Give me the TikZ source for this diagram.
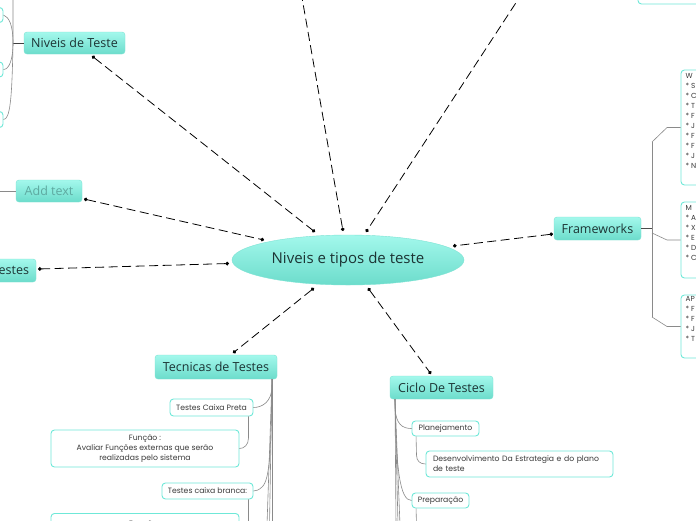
\documentclass[tikz,border=0pt]{standalone}
\usepackage{fontspec}
\setmainfont{Open Sans}
\newfontfamily\subfont{Poppins}
\usetikzlibrary{arrows.meta,calc,shapes.geometric}
\definecolor{tealtop}{HTML}{A3F8EC}
\definecolor{tealbot}{HTML}{6CDCCB}
\definecolor{tealedge}{HTML}{7DE3D4}
\definecolor{topictext}{HTML}{1C3434}
\definecolor{subedge}{HTML}{6FE8D8}
\definecolor{subtext}{HTML}{3A3A3A}
\definecolor{addtext}{HTML}{5EA9A0}
\definecolor{branchgray}{HTML}{8A8A8A}
\begin{document}
\begin{tikzpicture}[x=1pt,y=-1pt,
  topic/.style={rectangle, rounded corners=3pt, top color=tealtop, bottom color=tealbot,
    draw=tealedge, line width=0.4pt, text=topictext, inner sep=0pt,
    font=\fontsize{12.5}{14}\selectfont},
  sub/.style={rectangle, rounded corners=3.5pt, draw=subedge, line width=0.9pt, fill=white,
    text=subtext, inner sep=0pt, font=\subfont\fontsize{7.7}{10}\selectfont},
  conn/.style={draw=black, line width=0.8pt, dash pattern=on 9pt off 4.5pt,
    {Circle[length=3.6pt]}-{Circle[length=3.6pt]}},
  branch/.style={draw=branchgray, line width=0.6pt},
  fwtext/.style={anchor=north west, inner sep=0pt, text=subtext, align=left,
    font=\subfont\fontsize{7.3}{10}\selectfont}
]
\clip (0,0) rectangle (696,520);
\fill[white] (0,0) rectangle (696,520);

% central topic
\node[ellipse, top color=tealtop, bottom color=tealbot, draw=tealedge, line width=0.4pt,
  minimum width=232pt, minimum height=50pt, inner sep=0pt, text=topictext,
  font=\fontsize{15}{18}\selectfont] (center) at (348,260) {Niveis e tipos de teste};

% main topics
\node[topic, minimum width=101pt, minimum height=22pt] (niveis) at (74.5,43) {Niveis de Teste};
\node[topic, minimum width=66pt, minimum height=22pt, text=addtext] (addt) at (49,191) {Add text};
\node[topic, minimum width=50pt, minimum height=23pt, text width=36pt, align=right, inner xsep=7pt] (estes) at (11,270.5) {estes};
\node[topic, minimum width=87pt, minimum height=23pt] (frame) at (597.5,228.5) {Frameworks};
\node[topic, minimum width=122pt, minimum height=24pt] (tecn) at (216,367) {Tecnicas de Testes};
\node[topic, minimum width=103pt, minimum height=23pt] (ciclo) at (441.5,387.5) {Ciclo De Testes};

% sub topics (left edge, cut off)
\node[sub, minimum width=30pt, minimum height=15pt] (lb1) at (-12,15) {};
\node[sub, minimum width=30pt, minimum height=15pt] (lb2) at (-12,69.5) {};
\node[sub, minimum width=30pt, minimum height=16pt] (lb3) at (-12,119.5) {};
% top right
\node[sub, minimum width=72pt, minimum height=30pt] (trbox) at (674,-11) {};

% frameworks boxes
\node[sub, minimum width=60pt, minimum height=115pt] (fw1) at (711,127.5) {};
\node[sub, minimum width=60pt, minimum height=76pt] (fw2) at (711,240) {};
\node[sub, minimum width=60pt, minimum height=63pt] (fw3) at (711,326.5) {};
\node[fwtext] (fw1t) at (685.5,73) {W\\* S\\* C\\* T\\* F\\* J\\* F\\* F\\* J\\* N};
\node[fwtext] (fw2t) at (685.5,205) {M\\* A\\* X\\* E\\* D\\* C};
\node[fwtext] (fw3t) at (685.5,296) {AP\\* F\\* F\\* J\\* T};

% tecnicas subtopics
\node[sub, minimum width=83pt, minimum height=17pt] (preta) at (211.5,407.5) {Testes Caixa Preta};
\node[sub, minimum width=188pt, minimum height=37pt, align=center] (func1) at (145,448.5)
  {Função :\\Avaliar Funções externas que serão\\realizadas pelo sistema};
\node[sub, minimum width=91pt, minimum height=16pt] (branca) at (207.5,491) {Testes caixa branca:};
\node[sub, minimum width=188pt, minimum height=37pt, align=center, anchor=north] (func2) at (145,513)
  {\raisebox{-3pt}{Função :}\\ \\ };

% ciclo subtopics
\node[sub, minimum width=67pt, minimum height=15pt] (plan) at (445.5,428.5) {Planejamento};
\node[sub, minimum width=187pt, minimum height=26pt, text width=173pt, align=left] (desenv) at (519.5,464)
  {Desenvolvimento Da Estrategia e do plano\\de teste};
\node[sub, minimum width=57pt, minimum height=15pt] (prep) at (440.5,500.5) {Preparação};

% connector end points
\coordinate (s1) at (92,56);   \coordinate (e1) at (315,232);
\coordinate (s2) at (84,199);  \coordinate (e2) at (264,240);
\coordinate (s3) at (38,269);  \coordinate (e3) at (229,263.5);
\coordinate (s4) at (301,-8);  \coordinate (e4) at (343,231);
\coordinate (s5) at (523,-8);  \coordinate (e5) at (366,232);
\coordinate (s6) at (553,234); \coordinate (e6) at (453,246);
\coordinate (s7) at (233,353); \coordinate (e7) at (314,288);
\coordinate (s8) at (431,374); \coordinate (e8) at (368,288);

\draw[conn] (s1) -- (e1);
\draw[conn] (s2) -- (e2);
\draw[conn] (s3) -- (e3);
\draw[conn, {Circle[length=0.1pt]}-{Circle[length=3.6pt]}] (s4) -- (e4);
\draw[conn, {Circle[length=0.1pt]}-{Circle[length=3.6pt]}] (s5) -- (e5);
\draw[conn] (s6) -- (e6);
\draw[conn] (e7) -- (s7);
\draw[conn] (e8) -- (s8);

% niveis bracket
\coordinate (nb) at (13,43);
\draw[draw=black!75, line width=0.8pt] (niveis.west) -- (nb);
\draw[branch] (nb) .. controls (13,25) and (9,17) .. (lb1.east);
\draw[branch] (nb) .. controls (13,60) and (9,69.5) .. (lb2.east);
\draw[branch] (13,-5) -- (nb) .. controls (12,100) and (10,119.5) .. (lb3.east);
% add text line
\draw[branch] (-5,191) -- (addt.west);

% frameworks bracket
\coordinate (fb) at (652,228.5);
\draw[draw=black!70, line width=0.9pt] (frame.east) -- (fb);
\draw[branch] (652,142) -- (652,317);
\draw[branch] (652,142) -- (667,127.5) -- (fw1.west);
\draw[branch] (652,233) -- (667,240) -- (fw2.west);
\draw[branch] (652,317) -- (667,326.5) -- (fw3.west);

% tecnicas trunk
\coordinate (tt) at (272,379);
\draw[branch] (tt) -- (272,386) .. controls (272,402) and (262,407.5) .. (preta.east);
\draw[branch] (tt) .. controls (271,450) and (270,480) .. (262,487) .. controls (259,490) and (256,491) .. (branca.east);
\draw[branch] (tt) -- (272,525);
\draw[branch] (tt) -- (269.5,525);
\draw[branch] (tt) -- (267,525);
\draw[branch] ($(preta.south east)+(-5,0)$) -- (248.5,438) .. controls (248.5,445) and (244,448.5) .. (func1.east);
\draw[branch] ($(branca.south east)+(-5,0)$) -- (248.5,525);

% ciclo trunk
\coordinate (ct) at (395,399);
\draw[branch] (ct) -- (395,408) .. controls (396,424) and (402,428.5) .. (plan.west);
\draw[branch] (ct) .. controls (396,470) and (400,500.5) .. (prep.west);
\draw[branch] (ct) -- (396,525);
\draw[branch] (ct) -- (398,525);
\draw[branch] (ct) -- (400,525);
\draw[branch] ($(plan.south west)+(4.5,0)$) -- (416.5,455) .. controls (416.5,461) and (420,464) .. (desenv.west);
\draw[branch] ($(prep.south west)+(4.5,0)$) -- (416.5,525);
\end{tikzpicture}
\end{document}
